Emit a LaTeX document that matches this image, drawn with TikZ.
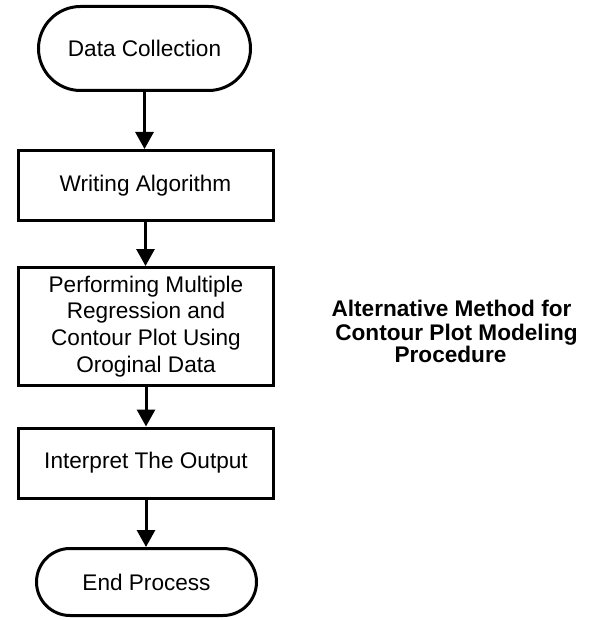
\documentclass[tikz,border=0pt]{standalone}
\usepackage{fontspec}
\setmainfont{Liberation Sans}
\usetikzlibrary{arrows.meta,shapes.misc}
\tikzset{
  term/.style={draw, line width=3pt, rounded rectangle, inner sep=0pt, align=center,
    font=\fontsize{22.6}{26.7}\selectfont},
  proc/.style={draw, line width=3pt, rectangle, inner sep=0pt, align=center,
    font=\fontsize{22.6}{26.7}\selectfont},
  arr/.style={line width=3pt, -{Triangle[width=18pt,length=17pt]}},
  lab/.style={anchor=base, inner sep=0pt, font=\fontsize{22.6}{26.7}\selectfont\bfseries}
}
\begin{document}
\begin{tikzpicture}[x=1pt,y=-1pt]
\useasboundingbox (0,0) rectangle (596,620);
\node[term, minimum width=212pt, minimum height=84pt] (dc) at (144.5,48.5) {Data Collection};
\node[proc, minimum width=255pt, minimum height=70pt] (wa) at (145.5,185.5) {Writing Algorithm};
\node[proc, minimum width=255pt, minimum height=118pt] (pm) at (146,326.5) {Performing Multiple\\Regression and\\Contour Plot Using\\Oroginal Data};
\node[proc, minimum width=255pt, minimum height=70pt] (io) at (146,463) {Interpret The Output};
\node[term, minimum width=220pt, minimum height=67pt] (ep) at (146.5,582) {End Process};
\draw[arr] (dc.south) -- (dc.south |- wa.north);
\draw[arr] (wa.south) -- (wa.south |- pm.north);
\draw[arr] (pm.south) -- (pm.south |- io.north);
\draw[arr] (io.south) -- (io.south |- ep.north);
\node[lab] (t1) at (451.5,316.7) {Alternative Method for};
\node[lab] (t2) at (456.5,340) {Contour Plot Modeling};
\node[lab] (t3) at (450.5,362.5) {Procedure};
\end{tikzpicture}
\end{document}
